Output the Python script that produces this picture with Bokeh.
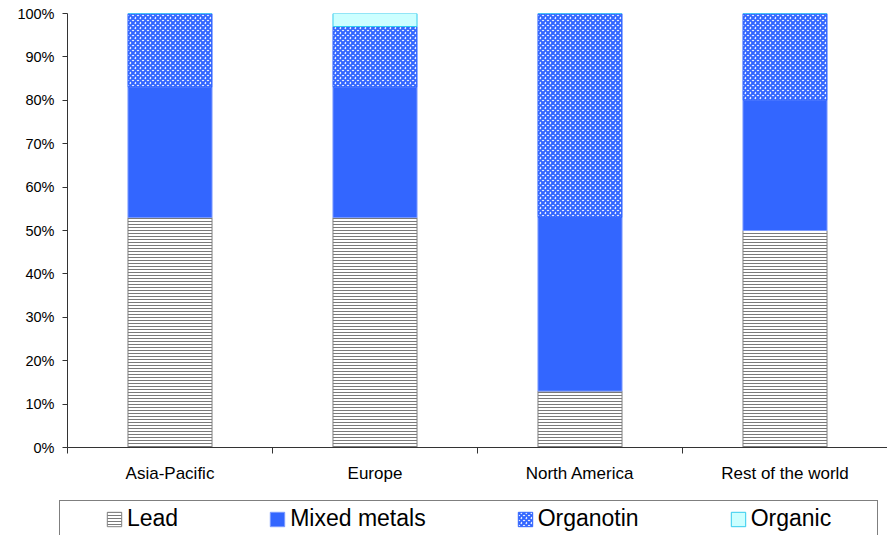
import numpy as np
from bokeh.plotting import figure
from bokeh.layouts import column
from bokeh.models import (ColumnDataSource, Range1d, LinearAxis, FixedTicker,
                          NumeralTickFormatter, Legend, LegendItem)
from bokeh.embed import file_html
from bokeh.resources import INLINE

# ---------------- data ----------------
regions = ["Asia-Pacific", "Europe", "North America", "Rest of the world"]
series = ["Lead", "Mixed metals", "Organotin", "Organic"]
lead = [53, 53, 13, 50]
mixed_metals = [30, 30, 40, 30]
organotin = [17, 14, 47, 20]
organic = [0, 3, 0, 0]
y_ticks = [0, 0.1, 0.2, 0.3, 0.4, 0.5, 0.6, 0.7, 0.8, 0.9, 1.0]

# ---------------- source ----------------
x = np.arange(len(regions)) + 0.5
vals = np.array([lead, mixed_metals, organotin, organic], dtype=float) / 100.0
tops = np.cumsum(vals, axis=0)
bottoms = tops - vals
src = ColumnDataSource(dict(x=x, **{f"b{i}": bottoms[i] for i in range(4)},
                            **{f"t{i}": tops[i] for i in range(4)}))

W = 887
p = figure(width=W, height=490, output_backend="svg", toolbar_location=None,
           x_range=Range1d(0, len(regions)), y_range=Range1d(0, 1),
           x_axis_type=None, y_axis_type=None,
           min_border_left=67, min_border_right=0, min_border_top=13, min_border_bottom=43)
p.outline_line_color = None

styles = [
    dict(fill_color="white", line_color="#808080", hatch_pattern="horizontal_line",
         hatch_color="#7a7a7a", hatch_scale=3, hatch_weight=1),
    dict(fill_color="#3366ff", line_color="#7a99ff"),
    dict(fill_color="white", line_color="#3366ff", hatch_pattern="diagonal_cross",
         hatch_color="#3366ff", hatch_scale=5, hatch_weight=2.2),
    dict(fill_color="#ccffff", line_color="#33ccee"),
]
bw = 0.41
for i in range(4):
    p.vbar(x="x", bottom=f"b{i}", top=f"t{i}", width=bw, source=src, line_width=1, **styles[i])

# ---------------- axes ----------------
yax = LinearAxis(ticker=FixedTicker(ticks=y_ticks), formatter=NumeralTickFormatter(format="0%"))
yax.major_tick_out = 5
yax.major_tick_in = 0
yax.minor_tick_line_color = None
yax.major_label_standoff = 8
yax.major_label_text_font = "Liberation Sans"
yax.major_label_text_font_size = "14.5px"
yax.major_label_text_color = "black"
yax.axis_line_color = "#333333"
yax.major_tick_line_color = "#333333"
p.add_layout(yax, "left")

xax = LinearAxis(ticker=FixedTicker(ticks=list(x), minor_ticks=list(range(len(regions) + 1))))
xax.major_label_overrides = {float(xx): r for xx, r in zip(x, regions)}
xax.major_tick_out = 0
xax.major_tick_in = 0
xax.minor_tick_out = 6
xax.minor_tick_in = 0
xax.minor_tick_line_color = "#333333"
xax.major_label_standoff = 10
xax.major_label_text_font = "Liberation Sans"
xax.major_label_text_font_size = "17px"
xax.major_label_text_color = "black"
xax.axis_line_color = "#333333"
p.add_layout(xax, "below")

p.ygrid.ticker = FixedTicker(ticks=y_ticks)
p.ygrid.grid_line_color = "#222222"
p.ygrid.grid_line_width = 1
p.xgrid.visible = False

# ---------------- legend strip ----------------
q = figure(width=W, height=45, output_backend="svg", toolbar_location=None,
           x_range=Range1d(0, 1), y_range=Range1d(0, 1),
           x_axis_type=None, y_axis_type=None,
           min_border_left=0, min_border_right=0, min_border_top=0, min_border_bottom=0)
q.frame_align = False
q.outline_line_color = None
q.xgrid.visible = False
q.ygrid.visible = False

proxies = [q.vbar(x="x", bottom=f"b{i}", top=f"t{i}", width=bw, source=src, line_width=1,
                  visible=False, **styles[i]) for i in range(4)]
dummy = q.vbar(x="x", top="t0", width=bw, source=src, fill_alpha=0, line_alpha=0, visible=False)

box = Legend(items=[LegendItem(label=" ", renderers=[dummy])],
             location=(59, -27), orientation="horizontal", padding=10, margin=0,
             glyph_width=20, glyph_height=20, label_standoff=5, label_width=772, label_height=40,
             border_line_color="black", border_line_width=1,
             background_fill_color="white", background_fill_alpha=1,
             inactive_fill_alpha=0)
q.add_layout(box)

leg = Legend(items=[LegendItem(label=s, renderers=[r]) for s, r in zip(series, proxies)],
             location=(105, 1.5), orientation="horizontal", padding=0, margin=0,
             spacing=90, glyph_width=18, glyph_height=18, label_standoff=4, label_height=30,
             label_text_font="Liberation Sans", label_text_font_size="23px",
             label_text_color="black", border_line_alpha=0, background_fill_alpha=0,
             inactive_fill_alpha=0)
q.add_layout(leg)

layout = column(p, q, spacing=0)
open("out.html", "w").write(file_html(layout, INLINE))
